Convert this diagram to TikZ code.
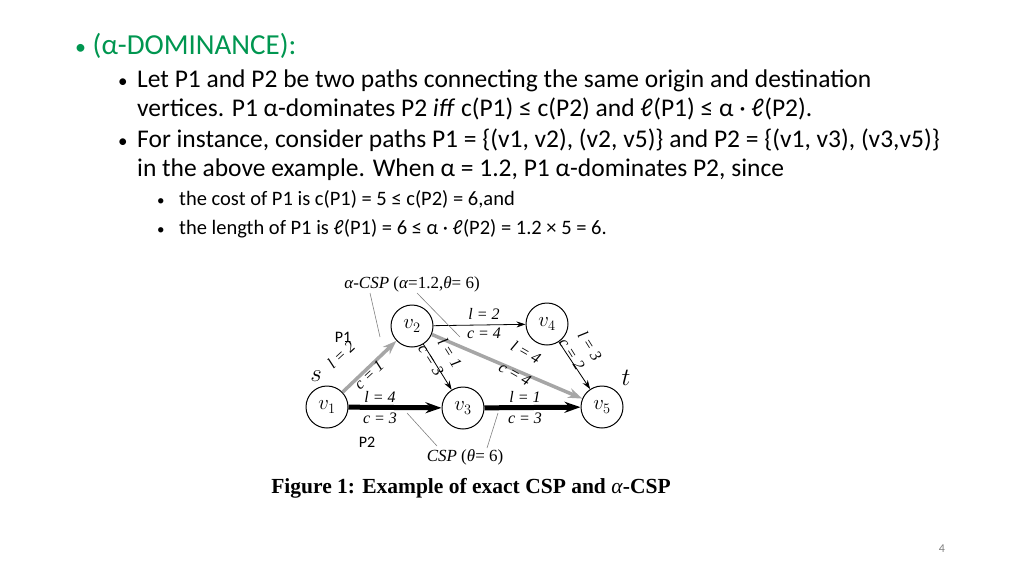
\documentclass[tikz,border=0pt]{standalone}
\usepackage{fontspec}
\setmainfont{Carlito}
\newfontfamily\capfont{Liberation Serif}
\usetikzlibrary{arrows.meta}
\definecolor{tgreen}{RGB}{0,150,80}
\begin{document}
\begin{tikzpicture}[x=1pt,y=-1pt,
  vtx/.style={circle,draw,line width=1pt,minimum size=42pt,inner sep=0pt,font=\fontsize{21}{21}\selectfont},
  lab/.style={font=\capfont\itshape\fontsize{16}{16}\selectfont,inner sep=0pt},
  thin/.style={-{Stealth[length=9pt,width=6pt]},line width=0.8pt},
  grayarr/.style={-{Stealth[length=14pt,width=10pt]},line width=3.5pt,draw=gray!70,color=gray!70},
  blackarr/.style={-{Stealth[length=16pt,width=11pt]},line width=5pt},
  lead/.style={draw=gray,line width=0.6pt},
  txt/.style={anchor=base west,inner sep=0pt}]
\useasboundingbox (0,0) rectangle (1024,576);
\node[txt,tgreen,font=\fontsize{29}{29}\selectfont] (t0) at (75,54) {{\fontsize{22}{22}\selectfont•} (α-DOMINANCE):};
\begin{scope}[font=\fontsize{25.5}{25.5}\selectfont]
\node[txt,font=\fontsize{19}{19}\selectfont] (a1) at (118,87) {•};
\node[txt] (a1t) at (137,87) {Let P1 and P2 be two paths connecting the same origin and destination};
\node[txt] (a2t) at (137,116) {vertices. P1 α-dominates P2 \textit{iff} c(P1) ≤ c(P2) and ℓ(P1) ≤ α · ℓ(P2).};
\node[txt,font=\fontsize{19}{19}\selectfont] (b1) at (118,147) {•};
\node[txt] (b1t) at (137,147) {For instance, consider paths P1 = \{(v1, v2), (v2, v5)\} and P2 = \{(v1, v3), (v3,v5)\}};
\node[txt] (b2t) at (137,176) {in the above example. When α = 1.2, P1 α-dominates P2, since};
\end{scope}
\begin{scope}[font=\fontsize{20.5}{20.5}\selectfont]
\node[txt,font=\fontsize{15}{15}\selectfont] (c1) at (157,205) {•};
\node[txt] (c1t) at (179,205) {the cost of P1 is c(P1) = 5 ≤ c(P2) = 6,and};
\node[txt,font=\fontsize{15}{15}\selectfont] (c2) at (157,234) {•};
\node[txt] (c2t) at (179,234) {the length of P1 is ℓ(P1) = 6 ≤ α · ℓ(P2) = 1.2 × 5 = 6.};
\end{scope}
\node[gray,font=\fontsize{12}{12}\selectfont] (pg) at (942,549) {4};
% graph
\node[vtx] (v1) at (327,407) {$v_1$};
\node[vtx] (v2) at (412,326) {$v_2$};
\node[vtx] (v3) at (463,408) {$v_3$};
\node[vtx] (v4) at (547,324) {$v_4$};
\node[vtx] (v5) at (602,407) {$v_5$};
\draw[grayarr] (v1) -- (v2);
\draw[grayarr] (v2) -- (v5);
\draw[blackarr] (v1) -- (v3);
\draw[blackarr] (v3) -- (v5);
\draw[thin] (v2) -- (v4);
\draw[thin] (v2) -- (v3);
\draw[thin] (v4) -- (v5);
\node[font=\fontsize{24}{24}\selectfont] (s) at (316,376) {$s$};
\node[font=\fontsize{24}{24}\selectfont] (t) at (626,378) {$t$};
\node[lab,rotate=43] (e1a) at (341,355) {l = 2};
\node[lab,rotate=43] (e1b) at (369,375) {c = 1};
\node[lab] (e2a) at (484,314) {l = 2};
\node[lab] (e2b) at (484,333) {c = 4};
\node[lab,rotate=-58] (e3a) at (450,353) {l = 1};
\node[lab,rotate=-58] (e3b) at (431,360) {c = 3};
\node[lab,rotate=-30] (e4a) at (526,352) {l = 4};
\node[lab,rotate=-30] (e4b) at (515,374) {c = 4};
\node[lab,rotate=-58] (e5a) at (590,346) {l = 3};
\node[lab,rotate=-58] (e5b) at (572,354) {c = 2};
\node[lab] (e6a) at (380,397) {l = 4};
\node[lab] (e6b) at (380,418) {c = 3};
\node[lab] (e7a) at (525,397) {l = 1};
\node[lab] (e7b) at (525,418) {c = 3};
\node[font=\capfont\itshape\fontsize{17}{17}\selectfont] (acsp) at (412,284) {α-CSP \textup{(}α\textup{=1.2,}θ\textup{= 6)}};
\node[font=\capfont\itshape\fontsize{17}{17}\selectfont] (csp) at (465,457) {CSP \textup{(}θ\textup{= 6)}};
\coordinate (la1) at (380,337);
\coordinate (la2) at (460,337);
\coordinate (lc1) at (407,413);
\coordinate (lc2) at (498,413);
\draw[lead] (370,293) -- (la1);
\draw[lead] (417,293) -- (la2);
\draw[lead] (437,446) -- (lc1);
\draw[lead] (487,448) -- (lc2);
\node[font=\fontsize{16}{16}\selectfont] (p1) at (343,337) {P1};
\node[font=\fontsize{16}{16}\selectfont] (p2) at (367,442) {P2};
\node[font=\capfont\bfseries\fontsize{21.5}{21.5}\selectfont] (cap) at (471,488) {Figure 1: Example of exact CSP and \textmd{\itshape α}-CSP};
\end{tikzpicture}
\end{document}
